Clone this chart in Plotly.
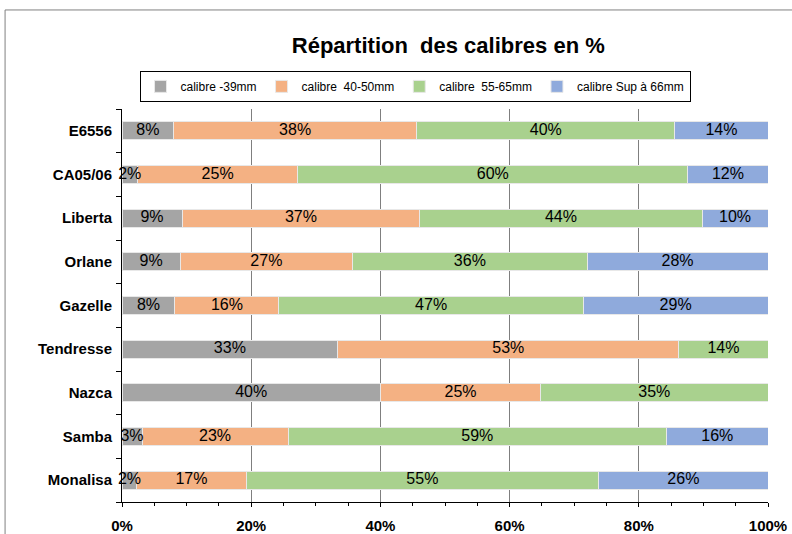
import plotly.graph_objects as go

# Varietes (du bas vers le haut) et parts de chaque calibre en %
varietes = ['Monalisa', 'Samba', 'Nazca', 'Tendresse', 'Gazelle',
            'Orlane', 'Liberta', 'CA05/06', 'E6556']
calibre_39 = [2.3, 3.1, 40.0, 33.4, 8.2, 9.0, 9.3, 2.4, 8.0]
calibre_40_50 = [16.9, 22.6, 24.8, 52.8, 16.1, 26.7, 36.8, 24.8, 37.6]
calibre_55_65 = [54.6, 58.6, 35.2, 13.8, 47.1, 36.3, 43.7, 60.4, 40.0]
calibre_66 = [26.2, 15.7, 0, 0, 28.6, 28.0, 10.2, 12.4, 14.4]

graduations = [0, 20, 40, 60, 80, 100]
etiquettes_x = ['0%', '20%', '40%', '60%', '80%', '100%']

series = [
    ('calibre -39mm', calibre_39, '#A5A5A5'),
    ('calibre  40-50mm', calibre_40_50, '#F4B183'),
    ('calibre  55-65mm', calibre_55_65, '#A9D18E'),
    ('calibre Sup à 66mm', calibre_66, '#8FAADC'),
]

police = 'Liberation Sans, Arial'

fig = go.Figure()
for nom, valeurs, couleur in series:
    fig.add_trace(go.Bar(
        y=varietes, x=valeurs, name=nom, orientation='h',
        marker=dict(color=couleur, line=dict(color='#E8E8E8', width=1)),
        hoverinfo='skip'
    ))

# etiquettes au centre de chaque segment, dessinees par-dessus toutes les barres
cumul = [0] * len(varietes)
for nom, valeurs, couleur in series:
    centres, ys, textes = [], [], []
    for i, v in enumerate(valeurs):
        if v > 0:
            centres.append(cumul[i] + v / 2)
            ys.append(varietes[i])
            textes.append(f"{round(v)}%")
        cumul[i] += v
    fig.add_trace(go.Scatter(
        x=centres, y=ys, text=textes, mode='text', showlegend=False,
        cliponaxis=False,
        textfont=dict(family=police, size=16, color='black'),
        hoverinfo='skip'
    ))

fig.update_layout(
    width=792, height=534,
    barmode='stack', bargap=0.59,
    plot_bgcolor='white', paper_bgcolor='white',
    margin=dict(l=122, r=24, t=109, b=32),
    font=dict(family=police, color='black'),
    title=dict(text='<b>Répartition  des calibres en %</b>', x=0.566, y=0.916,
               xanchor='center', yanchor='middle', font=dict(size=22)),
    legend=dict(orientation='h', x=0.4536, y=1.097, xanchor='center', yanchor='top',
                bordercolor='black', borderwidth=1, font=dict(size=12),
                traceorder='normal', itemwidth=30),
    showlegend=True,
)

fig.update_xaxes(
    range=[0, 100], tickmode='array', tickvals=graduations,
    ticktext=[f'<b>{t}</b>' for t in etiquettes_x],
    tickfont=dict(size=15, family=police),
    showgrid=True, gridcolor='#7F7F7F', gridwidth=1,
    showline=True, linecolor='black', linewidth=1,
    ticks='outside', ticklen=4, tickcolor='black', ticklabelstandoff=6,
    minor=dict(dtick=5, ticks='outside', ticklen=3, tickcolor='black', showgrid=False),
    zeroline=False, automargin=False,
)
fig.update_yaxes(
    type='category', tickson='boundaries', ticks='outside', ticklen=5,
    tickcolor='black', showline=True, linecolor='black', linewidth=1,
    showgrid=False, tickprefix='<b>', ticksuffix='</b>', ticklabelstandoff=6,
    tickfont=dict(size=15, family=police), automargin=False,
)

# cadre exterieur du graphique (bords gauche et haut)
fig.add_shape(type='line', xref='paper', yref='paper',
              x0=-0.181, x1=-0.181, y0=1.252, y1=-0.1,
              line=dict(color='#808080', width=1))
fig.add_shape(type='line', xref='paper', yref='paper',
              x0=-0.181, x1=1.1, y0=1.252, y1=1.252,
              line=dict(color='#808080', width=1))

# pas de marge autour de la page, pas de barre d'outils
fig.write_html("out.html", config={'displayModeBar': False},
               post_script="document.body.style.margin='0';")
